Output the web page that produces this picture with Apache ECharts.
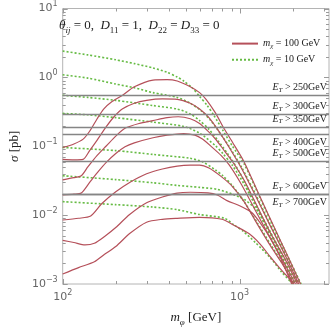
<!DOCTYPE html>
<html lang="en">
<head>
<meta charset="UTF-8">
<title>sigma vs m_phi</title>
<script src="https://cdn.jsdelivr.net/npm/echarts@6/dist/echarts.min.js"></script>
<style>html,body{margin:0;padding:0;background:#fff;}</style>
</head>
<body>
<div id="main" style="width:332px;height:332px;"></div>
<script type="text/javascript">
// m_chi = 100 GeV (solid red), one curve per E_T cut: [m_phi (GeV), sigma (pb)]
var red250 = [[100,0.096],[115.7,0.108],[130.5,0.127],[142,0.165],[156.6,0.251],[170.4,0.347],[187.8,0.435],[217,0.546],[254,0.73],[324,0.915],[389,0.93],[444,0.886],[526,0.73],[594,0.60],[646,0.48],[730,0.305],[804,0.194],[908,0.116],[1062,0.0587],[1306,0.0183],[1566,0.0067],[1878,0.00248],[2210,0.001]];
var red300 = [[100,0.0646],[115.7,0.0636],[130.5,0.0646],[142,0.0865],[156.6,0.123],[176.8,0.194],[195,0.268],[217,0.347],[254,0.421],[298,0.464],[366,0.487],[444,0.48],[526,0.42],[594,0.347],[671,0.26],[757,0.170],[854,0.105],[1024,0.048],[1228,0.0193],[1474,0.0074],[1811,0.0026],[2160,0.001]];
var red350 = [[100,0.0325],[115.7,0.035],[127.4,0.0373],[138.7,0.050],[156.6,0.0736],[176.8,0.1016],[199.5,0.1404],[225,0.182],[270,0.214],[324,0.236],[389,0.26],[450,0.268],[526,0.251],[594,0.214],[671,0.160],[730,0.1274],[804,0.092],[908,0.0606],[1062,0.0318],[1259,0.0133],[1492,0.0055],[1789,0.0024],[2120,0.001]];
var red400 = [[100,0.0196],[115.7,0.0202],[127.4,0.0209],[142,0.0298],[156.6,0.041],[176.8,0.0587],[199.5,0.0785],[225,0.0984],[254,0.112],[324,0.133],[389,0.145],[483,0.153],[559,0.145],[616,0.127],[695,0.098],[785,0.0736],[875,0.0532],[1024,0.0279],[1228,0.0117],[1474,0.0049],[1746,0.00224],[2069,0.001]];
var red500 = [[100,0.0085],[123,0.0090],[144,0.0097],[166,0.0146],[199.5,0.0218],[239,0.0298],[298,0.0398],[366,0.0468],[444,0.0516],[526,0.0532],[594,0.0532],[671,0.0483],[785,0.0365],[908,0.0262],[1062,0.0156],[1259,0.0074],[1492,0.0036],[1768,0.00185],[2020,0.001]];
var red600 = [[100,0.0043],[115.7,0.0040],[133.8,0.0037],[151,0.0039],[172.5,0.0049],[199.5,0.0066],[239,0.0102],[298,0.0151],[366,0.0183],[444,0.0209],[526,0.0215],[662,0.0211],[748,0.0196],[854,0.0161],[1000,0.0137],[1171,0.0109],[1322,0.0074],[1492,0.0046],[1684,0.00255],[1971,0.001]];
var red700 = [[100,0.0014],[123,0.00173],[151,0.0021],[172.5,0.0027],[199.5,0.0035],[239,0.0054],[298,0.0079],[366,0.0087],[444,0.0090],[594,0.0093],[794,0.0087],[941,0.0070],[1129,0.0054],[1306,0.0038],[1492,0.00247],[1684,0.0017],[1855,0.0013],[2020,0.001]];

// m_chi = 10 GeV (dotted green)
var green250 = [[100,2.41],[138.7,2.12],[199.5,1.80],[254,1.585],[324,1.37],[389,1.185],[444,1.01],[483,0.886],[539,0.707],[594,0.528],[654,0.395],[712,0.286],[804,0.170],[908,0.1016],[1062,0.055],[1306,0.0177],[1566,0.0065],[1878,0.00247],[2226,0.001]];
var green300 = [[100,1.09],[138.7,0.976],[199.5,0.80],[254,0.707],[324,0.60],[444,0.512],[526,0.42],[608,0.325],[687,0.236],[775,0.155],[875,0.098],[1024,0.050],[1228,0.0202],[1474,0.0077],[1811,0.0027],[2172,0.001]];
var green350 = [[100,0.55],[138.7,0.512],[199.5,0.464],[324,0.39],[444,0.347],[526,0.295],[594,0.236],[671,0.176],[757,0.1195],[854,0.0785],[988,0.044],[1185,0.0177],[1421,0.0070],[1768,0.00255],[2146,0.001]];
var green400 = [[100,0.30],[138.7,0.286],[199.5,0.26],[324,0.224],[483,0.194],[594,0.155],[730,0.1016],[804,0.0785],[908,0.0532],[1062,0.0279],[1259,0.0120],[1492,0.0050],[1768,0.00224],[2095,0.001]];
var green500 = [[100,0.096],[199.5,0.0865],[324,0.076],[526,0.0668],[620,0.059],[730,0.0453],[804,0.0373],[908,0.027],[1062,0.0156],[1259,0.0077],[1492,0.0038],[1768,0.0019],[2045,0.001]];
var green600 = [[100,0.0373],[199.5,0.0328],[324,0.0295],[444,0.027],[594,0.0253],[748,0.0237],[908,0.0202],[1075,0.0166],[1274,0.0113],[1421,0.0072],[1604,0.0039],[1789,0.0021],[1995,0.001]];
var green700 = [[100,0.0157],[199.5,0.0142],[324,0.0131],[444,0.012],[594,0.0102],[822,0.0090],[930,0.0072],[1050,0.0058],[1228,0.0040],[1492,0.0024],[1725,0.0015],[1995,0.001]];

// horizontal limits for each E_T cut
var cutNames = ['250', '300', '350', '400', '500', '600', '700'];
var cutValues = [0.546, 0.295, 0.194, 0.150, 0.0596, 0.0218, 0.0185];
var cutBelow = [false, false, false, true, false, false, true];

var xMin = 100, xMax = 3200, yMin = 0.001, yMax = 10;

var RED = '#b5505a', GREEN = '#66bb44';
var serif = 'Liberation Serif';

var chart = echarts.init(document.getElementById('main'));

function supLabel(v) {
    var l = Math.log(v) / Math.LN10;
    var e = Math.round(l);
    if (Math.abs(l - e) > 1e-6) return '';
    return '{b|10}{s|' + (e < 0 ? '\u2212' + (-e) : e) + '}';
}
var supRich = {
    b: {fontSize: 11, color: '#666', fontFamily: 'DejaVu Sans'},
    s: {fontSize: 8, color: '#666', fontFamily: 'DejaVu Sans', padding: [0, 0, 9, 0]}
};
var mathRich = {
    i: {fontFamily: serif, fontStyle: 'italic', fontWeight: 'normal', fontSize: 13, color: '#222'},
    n: {fontFamily: serif, fontWeight: 'normal', fontSize: 13, color: '#222'},
    sub: {fontFamily: serif, fontStyle: 'italic', fontWeight: 'normal', fontSize: 9, color: '#222', padding: [9, 0, 0, 0]},
    subn: {fontFamily: serif, fontWeight: 'normal', fontSize: 9, color: '#222', padding: [9, 0, 0, 0]}
};

function curve(name, data, color, dotted) {
    return {
        name: name, type: 'line', data: data, symbol: 'none', showSymbol: false,
        smooth: 0.25, clip: true, silent: true, z: dotted ? 2 : 3,
        lineStyle: {color: color, width: dotted ? 1.6 : 1.2, type: dotted ? [2, 2] : 'solid'}
    };
}

var reds = [red250, red300, red350, red400, red500, red600, red700];
var greens = [green250, green300, green350, green400, green500, green600, green700];
var series = [];
reds.forEach(function (d) { series.push(curve('m100', d, RED, false)); });
greens.forEach(function (d) { series.push(curve('m10', d, GREEN, true)); });

series.push({
    name: 'cuts', type: 'line', data: [], silent: true,
    markLine: {
        silent: true, symbol: 'none', animation: false,
        lineStyle: {color: '#858585', width: 1.3, type: 'solid'},
        label: {
            distance: 2,
            rich: {
                i: {fontFamily: serif, fontStyle: 'italic', fontSize: 10, color: '#222'},
                sub: {fontFamily: serif, fontStyle: 'italic', fontSize: 7, color: '#222', padding: [5, 0, 0, 0]},
                n: {fontFamily: serif, fontSize: 10, color: '#222'}
            }
        },
        data: cutValues.map(function (v, i) {
            return {
                yAxis: v,
                label: {
                    position: cutBelow[i] ? 'insideEndBottom' : 'insideEndTop',
                    formatter: '{i|E}{sub|T}{n| > ' + cutNames[i] + 'GeV}'
                }
            };
        })
    }
});

var option = {
    animation: false,
    title: {
        text: '{i|\u03b8}{sub|ij}{n| = 0,  }{i|D}{subn|11}{n| = 1,  }{i|D}{subn|22}{n| = }{i|D}{subn|33}{n| = 0}',
        left: 54, top: 12,
        textStyle: {fontWeight: 'normal', rich: mathRich}
    },
    legend: {
        orient: 'vertical', left: 226, top: 33,
        itemWidth: 26, itemHeight: 14, itemGap: 4,
        selectedMode: false,
        itemStyle: {opacity: 0},
        data: ['m100', 'm10'],
        formatter: function (n) {
            return '{i|m}{sub|\u03c7}{n| = ' + (n === 'm100' ? '100' : '10') + ' GeV}';
        },
        textStyle: {
            rich: {
                i: {fontFamily: serif, fontStyle: 'italic', fontSize: 10, color: '#222'},
                sub: {fontFamily: serif, fontStyle: 'italic', fontSize: 7, color: '#222', padding: [6, 0, 0, 0]},
                n: {fontFamily: serif, fontSize: 10, color: '#222'}
            }
        }
    },
    grid: {left: 43, right: 3, top: 8, bottom: 39, show: true, borderColor: '#b4b4b4', borderWidth: 1},
    xAxis: {
        type: 'log', logBase: 10, min: xMin, max: xMax,
        name: '{i|m}{sub|\u03c6}{n| [GeV]}', nameLocation: 'middle', nameGap: 25,
        nameTextStyle: {rich: mathRich},
        axisLine: {show: false}, axisTick: {show: false}, splitLine: {show: false},
        axisLabel: {margin: 5, formatter: supLabel, rich: supRich, showMaxLabel: false}
    },
    yAxis: {
        type: 'log', logBase: 10, min: yMin, max: yMax,
        name: '{i|\u03c3}{n| [pb]}', nameLocation: 'middle', nameGap: 24,
        nameTextStyle: {rich: mathRich},
        axisLine: {show: false}, axisTick: {show: false}, splitLine: {show: false},
        axisLabel: {margin: 5, formatter: supLabel, rich: supRich}
    },
    series: series
};
chart.setOption(option);

// log ticks (major + minor) on all four sides, placed through the axes' own scales
var ticks = [];
var xl = chart.convertToPixel({xAxisIndex: 0}, xMin), xr = chart.convertToPixel({xAxisIndex: 0}, xMax);
var yb = chart.convertToPixel({yAxisIndex: 0}, yMin), yt = chart.convertToPixel({yAxisIndex: 0}, yMax);
var tickStyle = {stroke: '#9a9a9a', lineWidth: 1};
for (var k = 2; k <= 3; k++) {
    for (var j = 1; j <= 9; j++) {
        var v = j * Math.pow(10, k);
        if (v > xMax) continue;
        var px = Math.round(chart.convertToPixel({xAxisIndex: 0}, v)) + 0.5;
        var len = j === 1 ? 5 : 3;
        ticks.push({type: 'line', silent: true, shape: {x1: px, y1: yb, x2: px, y2: yb - len}, style: tickStyle});
        ticks.push({type: 'line', silent: true, shape: {x1: px, y1: yt, x2: px, y2: yt + len}, style: tickStyle});
    }
}
for (var k2 = -3; k2 <= 1; k2++) {
    for (var j2 = 1; j2 <= 9; j2++) {
        var w = j2 * Math.pow(10, k2);
        if (w > yMax * 1.0001) continue;
        var py = Math.round(chart.convertToPixel({yAxisIndex: 0}, w)) + 0.5;
        var len2 = j2 === 1 ? 5 : 3;
        ticks.push({type: 'line', silent: true, shape: {x1: xl, y1: py, x2: xl + len2, y2: py}, style: tickStyle});
        ticks.push({type: 'line', silent: true, shape: {x1: xr, y1: py, x2: xr - len2, y2: py}, style: tickStyle});
    }
}
chart.setOption({graphic: ticks});
</script>
</body>
</html>
